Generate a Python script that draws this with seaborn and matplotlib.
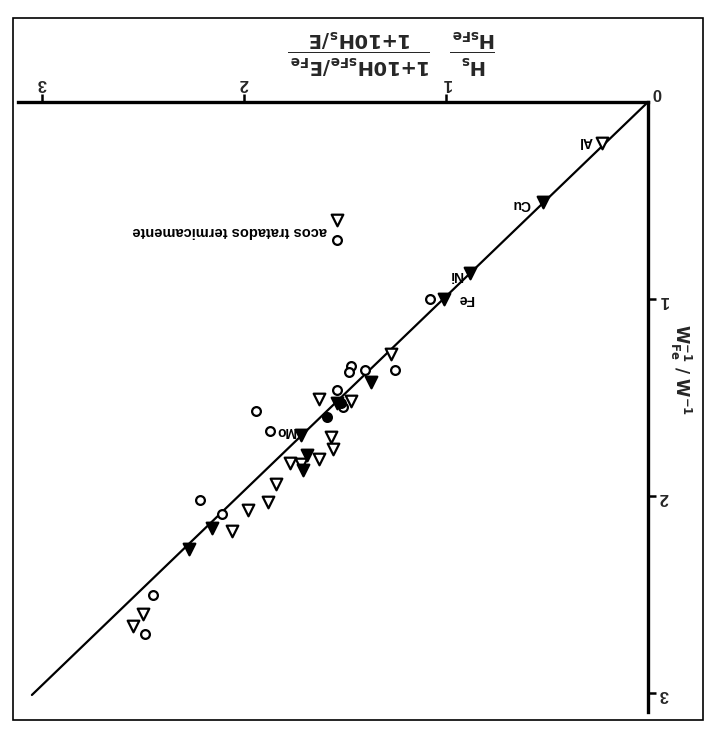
import matplotlib
matplotlib.use("Agg")
import matplotlib.pyplot as plt
import seaborn as sns
import pandas as pd
from matplotlib.patches import Rectangle

sns.set_theme(style="white")
plt.rcParams['font.family'] = ['Liberation Sans', 'DejaVu Sans']
plt.rcParams['mathtext.fontset'] = 'dejavusans'
plt.rcParams['mathtext.default'] = 'bf'

# ---- data (x: hardness ratio, y: W_Fe^-1 / W^-1) ----
open_tri_x = [0.23, 1.27, 1.63, 1.47, 1.57, 1.56, 1.63, 1.77, 1.72, 1.84, 1.88, 1.98, 2.06, 2.50, 2.55]
open_tri_y = [0.21, 1.28, 1.51, 1.52, 1.70, 1.76, 1.81, 1.83, 1.84, 1.94, 2.03, 2.07, 2.18, 2.60, 2.66]

fill_tri_x = [0.52, 0.88, 1.01, 1.37, 1.54, 1.72, 1.69, 1.71, 2.16, 2.27]
fill_tri_y = [0.51, 0.87, 1.00, 1.42, 1.53, 1.69, 1.79, 1.87, 2.16, 2.27]

open_circ_x = [1.08, 1.25, 1.47, 1.48, 1.40, 1.54, 1.51, 1.94, 1.87, 2.22, 2.11, 2.45, 2.49]
open_circ_y = [1.00, 1.36, 1.34, 1.37, 1.36, 1.46, 1.55, 1.57, 1.67, 2.02, 2.09, 2.50, 2.70]

fill_circ_x = [1.52, 1.59]
fill_circ_y = [1.53, 1.60]

fit_x = [0.0, 3.05]
fit_y = [0.0, 3.01]

metal_labels = ["Al", "Cu", "Ni", "Fe", "Mo"]
metal_lab_x = [0.31, 0.63, 0.95, 0.90, 1.79]
metal_lab_y = [0.20, 0.52, 0.88, 1.00, 1.67]

ticks = [1, 2, 3]
legend_text = "acos tratados termicamente"

# ---- figure ----
fig = plt.figure(figsize=(7.07, 7.31), dpi=100)
W, H = 707, 731
ox, oy = 648, 102          # origin (pixels, top-left based)
right_px, bottom_px = 18, 712
ax = fig.add_axes([right_px / W, (H - bottom_px) / H, (ox - right_px) / W, (bottom_px - oy) / H])
ax.set_facecolor('white')

sns.lineplot(x=fit_x, y=fit_y, ax=ax, color='black', linewidth=1.6, sort=False)

ms_tri, ms_circ, lw = 70, 40, 1.6
sns.scatterplot(x=open_tri_x, y=open_tri_y, ax=ax, marker='v', s=ms_tri,
                facecolor='white', edgecolor='black', linewidth=lw, zorder=3)
sns.scatterplot(x=fill_tri_x, y=fill_tri_y, ax=ax, marker='v', s=ms_tri,
                color='black', edgecolor='black', linewidth=lw, zorder=3)
sns.scatterplot(x=open_circ_x, y=open_circ_y, ax=ax, marker='o', s=ms_circ,
                facecolor='white', edgecolor='black', linewidth=lw, zorder=3)
sns.scatterplot(x=fill_circ_x, y=fill_circ_y, ax=ax, marker='o', s=ms_circ,
                color='black', edgecolor='black', linewidth=lw, zorder=3)

for lab, lx, ly in zip(metal_labels, metal_lab_x, metal_lab_y):
    ax.text(lx, ly, lab, rotation=180, ha='center', va='center',
            fontsize=10, fontweight='bold', color='black')

# legend drawn as marks + upside-down text
sns.scatterplot(x=[1.54], y=[0.60], ax=ax, marker='v', s=ms_tri,
                facecolor='white', edgecolor='black', linewidth=lw)
sns.scatterplot(x=[1.54], y=[0.70], ax=ax, marker='o', s=ms_circ,
                facecolor='white', edgecolor='black', linewidth=lw)
ax.text(1.59, 0.655, legend_text, rotation=180, ha='right', va='center',
        fontsize=10.5, fontweight='bold', color='black')

ax.set_xlim((ox - right_px) / 202.0, 0)
ax.set_ylim((bottom_px - oy) / 197.0, 0)

for s in ['left', 'bottom']:
    ax.spines[s].set_visible(False)
for s in ['top', 'right']:
    ax.spines[s].set_visible(True)
    ax.spines[s].set_color('black')
    ax.spines[s].set_linewidth(2.4)

ax.xaxis.tick_top()
ax.yaxis.tick_right()
ax.set_xticks(ticks)
ax.set_yticks(ticks)
ax.set_xticklabels([str(t) for t in ticks], rotation=180, fontsize=12, fontweight='bold')
ax.set_yticklabels([str(t) for t in ticks], rotation=180, fontsize=12, fontweight='bold')
ax.tick_params(axis='both', direction='out', length=6, width=1.8, color='black', pad=2)
ax.set_xlabel('')
ax.set_ylabel('')
ax.grid(False)

ax.text(-0.045, -0.05, "0", rotation=180, ha='center', va='center',
        fontsize=12, fontweight='bold', clip_on=False)

fig.text(392 / W, (H - 51) / H,
         r'$\frac{H_s}{H_{sFe}}\ \ \frac{1{+}10H_{sFe}/E_{Fe}}{1{+}10H_s/E}$',
         rotation=180, ha='center', va='center', fontsize=20)
fig.text(681 / W, (H - 370) / H, r'$W^{-1}_{Fe}\ /\ W^{-1}$',
         rotation=270, ha='center', va='center', fontsize=12)

fig.patches.append(Rectangle((13 / W, 11 / H), (703 - 13) / W, (720 - 18) / H,
                             transform=fig.transFigure, fill=False,
                             edgecolor='black', linewidth=1.2))

fig.savefig('out.png', dpi=100, facecolor='white')
